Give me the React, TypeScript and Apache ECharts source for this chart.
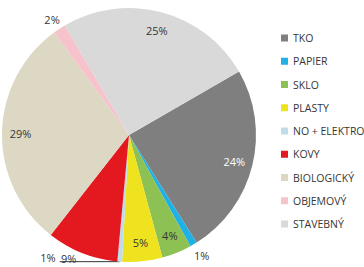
import React, { useEffect, useRef } from "react";
import * as echarts from "echarts";

const categories = ["TKO", "PAPIER", "SKLO", "PLASTY", "NO + ELEKTRO", "KOVY", "BIOLOGICKÝ", "OBJEMOVÝ", "STAVEBNÝ"];
const values = [24.4, 0.9, 3.8, 5.1, 0.6, 9.1, 29.4, 1.6, 25.1];
const colors = ["#7f7f7f", "#1fb0e6", "#8dc153", "#efe31f", "#bfdce8", "#e3191f", "#dcd8c3", "#f6c2cb", "#d9d9d9"];
const insideLabelNames = ["TKO", "SKLO", "PLASTY", "BIOLOGICKÝ", "STAVEBNÝ"];

const FONT = "'Open Sans', 'Noto Sans', sans-serif";
const TEXT = "#363636";

// per-slice outside label layout (styling only)
const outsideLayout: Record<string, any> = {
  PAPIER: { length: 14.7, length2: 0, dist: -7, line: false, dy: -2 },
  "NO + ELEKTRO": { length: 0, length2: 60, dist: 4, line: true, dy: -4 },
  KOVY: { length: 6, length2: 0, dist: 3.5, line: false, dy: 0 },
  "OBJEMOVÝ": { length: 11.4, length2: 0, dist: -6.6, line: false, dy: 0 },
};

const pctFormatter = (p: any) => Math.round(p.percent) + "%";

export default function App() {
  const ref = useRef<HTMLDivElement>(null);
  useEffect(() => {
    document.body.style.margin = "0";
    const chart = echarts.init(ref.current!, undefined, { renderer: "svg" });
    const mainData = categories.map((name, i) => {
      const o = outsideLayout[name];
      return {
        name,
        value: values[i],
        itemStyle: { color: colors[i] },
        label: o ? { show: true, distanceToLabelLine: o.dist } : { show: false },
        labelLine: o ? { show: o.line, length: o.length, length2: o.length2 } : { show: false },
      };
    });
    const overlayData = categories.map((name, i) => ({
      name,
      value: values[i],
      label: {
        show: insideLabelNames.includes(name),
        color: name === "TKO" ? "#ffffff" : TEXT,
      },
    }));
    chart.setOption({
      animation: false,
      legend: {
        orient: "vertical",
        left: 276,
        top: 26,
        itemWidth: 7,
        itemHeight: 7,
        itemGap: 9.25,
        icon: "rect",
        selectedMode: false,
        data: categories,
        textStyle: { fontFamily: FONT, fontSize: 10.5, color: TEXT, lineHeight: 14 },
      },
      series: [
        {
          type: "pie",
          center: [129, 135],
          radius: [0, 127],
          startAngle: 30,
          clockwise: true,
          avoidLabelOverlap: false,
          silent: true,
          itemStyle: { borderWidth: 0 },
          label: {
            position: "outside",
            formatter: pctFormatter,
            fontFamily: FONT,
            fontSize: 11,
            color: TEXT,
          },
          labelLine: { lineStyle: { color: TEXT, width: 1 }, smooth: false },
          labelLayout: (p: any) => {
            const o = outsideLayout[categories[p.dataIndex]];
            return o && o.dy ? { dy: o.dy } : {};
          },
          emphasis: { disabled: true },
          data: mainData,
        },
        {
          type: "pie",
          center: [129, 135],
          radius: [84, 127],
          startAngle: 30,
          clockwise: true,
          avoidLabelOverlap: false,
          silent: true,
          itemStyle: { color: "rgba(0,0,0,0)", borderWidth: 0 },
          label: {
            position: "inside",
            formatter: pctFormatter,
            fontFamily: FONT,
            fontSize: 11,
          },
          labelLine: { show: false },
          emphasis: { disabled: true },
          data: overlayData,
        },
      ],
    });
    return () => chart.dispose();
  }, []);
  return <div ref={ref} style={{ width: 364, height: 267 }} />;
}
